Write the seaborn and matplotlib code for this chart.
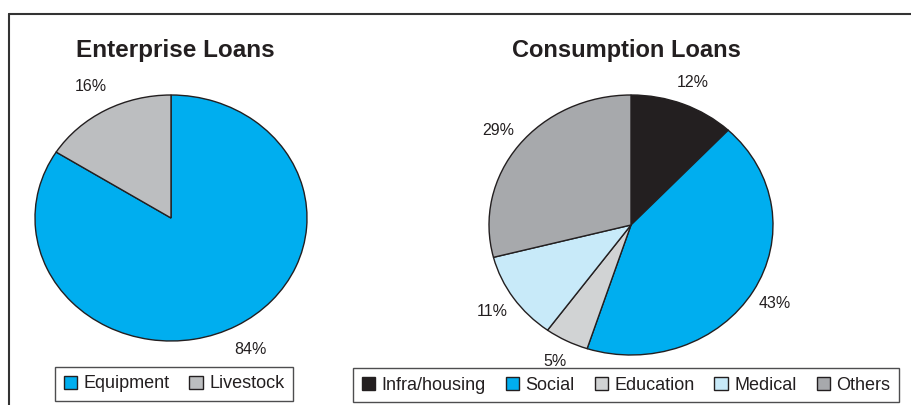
import matplotlib
matplotlib.use("Agg")
import matplotlib.pyplot as plt
from matplotlib.lines import Line2D
import seaborn as sns

# Loan portfolio shares (percent)
enterprise_labels = ["Equipment", "Livestock"]
enterprise_values = [84, 16]

consumption_labels = ["Infra/housing", "Social", "Education", "Medical", "Others"]
consumption_values = [12, 43, 5, 11, 29]

enterprise_title = "Enterprise Loans"
consumption_title = "Consumption Loans"

sns.set_style("white")
plt.rcParams["font.family"] = ["Liberation Sans", "DejaVu Sans"]

enterprise_colors = sns.color_palette(["#00AEEF", "#BCBEC0"])
consumption_colors = sns.color_palette(["#231F20", "#00AEEF", "#D1D3D4", "#C8EAF9", "#A7A9AC"])
edge = "#231F20"

W, H = 912, 405
fig = plt.figure(figsize=(W / 100, H / 100), dpi=100)
fig.patch.set_facecolor("white")


def axes_for(cx, cy, rx, ry, lim=1.25):
    """Axes whose data range [-lim, lim] maps to an ellipse of radii rx, ry pixels."""
    w, h = 2 * lim * rx, 2 * lim * ry
    left = (cx - w / 2) / W
    bottom = (H - (cy + h / 2)) / H
    return fig.add_axes([left, bottom, w / W, h / H])


def draw_pie(ax, values, colors, pct_dist):
    wedges, _, _ = ax.pie(
        values,
        colors=colors,
        startangle=90,
        counterclock=False,
        autopct="%d%%",
        pctdistance=pct_dist,
        wedgeprops=dict(edgecolor=edge, linewidth=1.0),
        textprops=dict(fontsize=11.5, color="#231F20"),
    )
    ax.set_aspect("auto")
    ax.set_xlim(-1.25, 1.25)
    ax.set_ylim(-1.25, 1.25)
    ax.axis("off")
    return wedges


ax1 = axes_for(171, 218, 136, 123)
w1 = draw_pie(ax1, enterprise_values, enterprise_colors, 1.22)
ax2 = axes_for(631, 225, 142, 130)
w2 = draw_pie(ax2, consumption_values, consumption_colors, 1.18)

fig.text(175 / W, 1 - 50 / H, enterprise_title, ha="center", va="center",
         fontsize=17.5, fontweight="bold", color="#231F20")
fig.text(626 / W, 1 - 50 / H, consumption_title, ha="center", va="center",
         fontsize=17, fontweight="bold", color="#231F20")

legend_kw = dict(
    frameon=True, fancybox=False, edgecolor="#4D4D4F", framealpha=1,
    fontsize=13, handlelength=0.75, handleheight=0.75, handletextpad=0.35,
    columnspacing=1.1, borderpad=0.45, loc="center",
)
leg1 = fig.legend(w1, enterprise_labels, ncol=2,
                  bbox_to_anchor=(174 / W, 1 - 384 / H), **legend_kw)
leg2 = fig.legend(w2, consumption_labels, ncol=5,
                  bbox_to_anchor=(626 / W, 1 - 385 / H), **legend_kw)
for leg in (leg1, leg2):
    leg.get_frame().set_linewidth(1.0)
    for t in leg.get_texts():
        t.set_color("#231F20")

# outer frame: top and left rules
fig.add_artist(Line2D([9 / W, 1], [1 - 14 / H, 1 - 14 / H], color="#333333", lw=1.5))
fig.add_artist(Line2D([9 / W, 9 / W], [0, 1 - 14 / H], color="#333333", lw=1.5))

fig.savefig("out.png", dpi=100, facecolor="white")
